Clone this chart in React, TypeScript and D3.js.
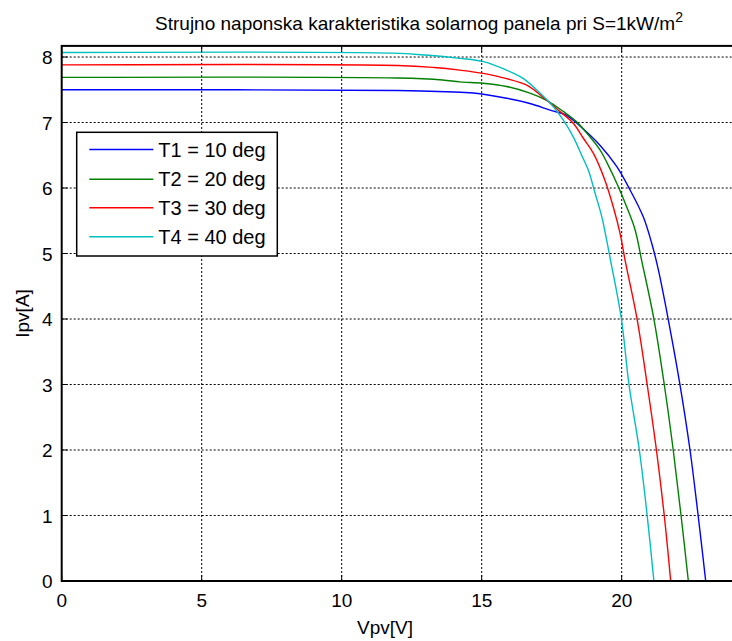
import * as d3 from "d3";

// Strujno-naponska karakteristika, S = 1 kW/m2, four panel temperatures
const legendLabels = ["T1 = 10 deg", "T2 = 20 deg", "T3 = 30 deg", "T4 = 40 deg"];
const colors = ["#0000ff", "#008000", "#ff0000", "#00bfbf"];

const v1 = [0, 12, 13.75, 14.7, 15.89, 16.72, 17.44, 18.03, 18.5, 19.23, 19.82, 20.3, 20.77, 21.07, 21.31, 21.66, 22.08, 22.44, 22.73, 23.0];
const i1 = [7.5, 7.49, 7.47, 7.45, 7.37, 7.29, 7.19, 7.11, 6.95, 6.65, 6.33, 5.97, 5.56, 5.16, 4.75, 4.0, 3.0, 2.0, 1.0, 0];

const v2 = [0, 12, 13.6, 14.22, 15.06, 15.89, 16.72, 17.32, 17.91, 18.39, 18.87, 19.23, 19.46, 19.88, 20.18, 20.48, 20.71, 21.15, 21.52, 21.84, 22.12, 22.38];
const i2 = [7.69, 7.68, 7.65, 7.62, 7.6, 7.55, 7.45, 7.34, 7.17, 7.01, 6.78, 6.58, 6.4, 6.02, 5.71, 5.36, 4.9, 4.0, 3.0, 2.0, 1.0, 0];

const v3 = [0, 12, 13.3, 14.22, 15.06, 15.89, 16.61, 17.32, 17.79, 18.27, 18.63, 18.99, 19.4, 19.7, 19.94, 20.12, 20.55, 20.91, 21.24, 21.52, 21.75];
const i3 = [7.88, 7.87, 7.84, 7.8, 7.75, 7.67, 7.57, 7.34, 7.17, 6.99, 6.76, 6.53, 6.12, 5.71, 5.31, 4.9, 4.0, 3.0, 2.0, 1.0, 0];

const v4 = [0, 11.8, 13.0, 14.22, 15.06, 15.89, 16.49, 17.08, 17.56, 17.91, 18.27, 18.57, 18.81, 19.05, 19.29, 19.46, 19.6, 19.99, 20.26, 20.63, 20.91, 21.15];
const i4 = [8.07, 8.06, 8.03, 7.98, 7.93, 7.8, 7.67, 7.45, 7.24, 7.04, 6.78, 6.5, 6.27, 5.92, 5.56, 5.21, 4.9, 4.0, 3.0, 2.0, 1.0, 0];

const voltages = [v1, v2, v3, v4];
const currents = [i1, i2, i3, i4];

const xTicks = [0, 5, 10, 15, 20, 25];
const xTickLabels = ["0", "5", "10", "15", "20", ""]; // 25 falls outside the picture
const yTicks = [0, 1, 2, 3, 4, 5, 6, 7, 8];

const W = 732;
const H = 641;
const font = "'Liberation Sans', Arial, Helvetica, sans-serif";
const fs = 19;

export default function App() {
  // axes box runs past the right edge of the picture (xlim 0..25)
  const x = d3.scaleLinear().domain([0, 25]).range([61.7, 761.7]);
  const y = d3.scaleLinear().domain([0, 8.17]).range([581, 45.9]);

  const [x0, x1] = x.range();
  const [y0, y1] = y.range();

  const line = d3
    .line<[number, number]>()
    .x((d) => x(d[0]))
    .y((d) => y(d[1]))
    .curve(d3.curveCatmullRom.alpha(0.5));

  const series = voltages.map((vs, k) => vs.map((v, j) => [v, currents[k][j]] as [number, number]));

  // legend placement
  const lg = { x: 76.7, y: 132.3, w: 200.6, h: 123.7 };
  const rowY = [149.5, 179.3, 207.7, 236.7];

  return (
    <svg
      width={W}
      height={H}
      style={{ position: "absolute", left: 0, top: 0, background: "#fff" }}
      fontFamily={font}
    >
      <rect x={0} y={0} width={W} height={H} fill="#fff" />

      {/* grid */}
      <g stroke="#000" strokeWidth={1} strokeDasharray="2,2">
        {xTicks
          .filter((t) => t > 0)
          .map((t) => (
            <line key={"gx" + t} x1={x(t)} x2={x(t)} y1={y0} y2={y1} />
          ))}
        {yTicks
          .filter((t) => t > 0)
          .map((t) => (
            <line key={"gy" + t} x1={x0} x2={x1} y1={y(t)} y2={y(t)} />
          ))}
      </g>

      {/* curves */}
      <g fill="none" strokeWidth={1.4}>
        {series.map((s, k) => (
          <path key={k} d={line(s) ?? ""} stroke={colors[k]} />
        ))}
      </g>

      {/* axes box and inward ticks */}
      <rect x={x0} y={y1} width={x1 - x0} height={y0 - y1} fill="none" stroke="#000" strokeWidth={2} />
      <g stroke="#000" strokeWidth={1}>
        {xTicks.map((t) => (
          <g key={"tx" + t}>
            <line x1={x(t)} x2={x(t)} y1={y0} y2={y0 - 6} />
            <line x1={x(t)} x2={x(t)} y1={y1} y2={y1 + 6} />
          </g>
        ))}
        {yTicks.map((t) => (
          <line key={"ty" + t} x1={x0} x2={x0 + 6} y1={y(t)} y2={y(t)} />
        ))}
      </g>

      {/* tick labels */}
      <g fontSize={fs} fill="#000">
        {xTicks.map((t, k) => (
          <text key={"lx" + t} x={x(t)} y={y0 + 26} textAnchor="middle">
            {xTickLabels[k]}
          </text>
        ))}
        {yTicks.map((t) => (
          <text key={"ly" + t} x={x0 - 9} y={y(t) + 7} textAnchor="end">
            {t}
          </text>
        ))}
      </g>

      {/* title and axis labels */}
      <text x={419} y={30} textAnchor="middle" fontSize={fs} fill="#000">
        Strujno naponska karakteristika solarnog panela pri S=1kW/m
        <tspan dy={-8} fontSize={14}>
          2
        </tspan>
      </text>
      <text x={385} y={634} textAnchor="middle" fontSize={fs} fill="#000">
        Vpv[V]
      </text>
      <text
        transform={`translate(29, ${(y0 + y1) / 2}) rotate(-90)`}
        textAnchor="middle"
        fontSize={fs}
        fill="#000"
      >
        Ipv[A]
      </text>

      {/* legend */}
      <rect x={lg.x} y={lg.y} width={lg.w} height={lg.h} fill="#fff" stroke="#000" strokeWidth={1.5} />
      {legendLabels.map((lab, k) => (
        <g key={lab}>
          <line x1={89.3} x2={153.3} y1={rowY[k]} y2={rowY[k]} stroke={colors[k]} strokeWidth={1.4} />
          <text x={158.3} y={rowY[k] + 7} fontSize={fs + 1} fill="#000">
            {lab}
          </text>
        </g>
      ))}
    </svg>
  );
}
